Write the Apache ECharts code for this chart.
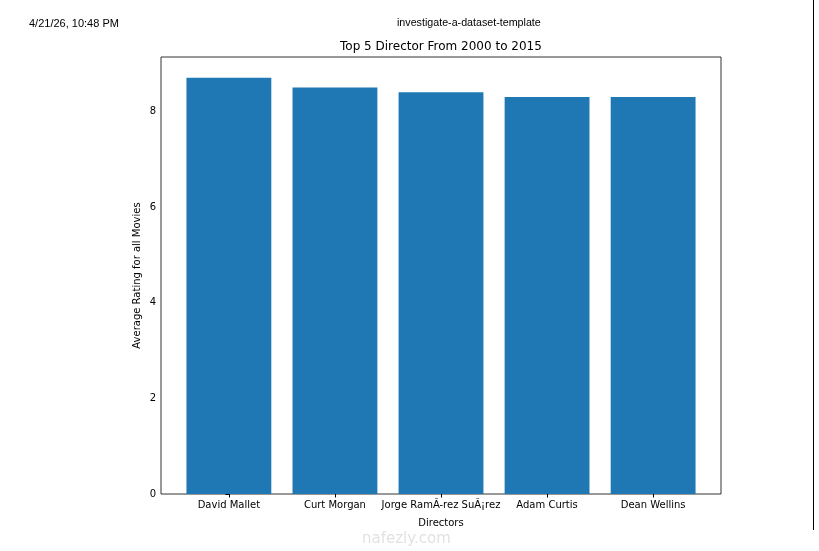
<!DOCTYPE html>
<html>
<head>
<meta charset="utf-8">
<script src="https://cdn.jsdelivr.net/npm/echarts@6/dist/echarts.min.js"></script>
<style>
html,body{margin:0;padding:0;background:#fff;}
#chart{width:819px;height:551px;}
</style>
</head>
<body>
<div id="chart"></div>
<script>
const directors = ['David Mallet', 'Curt Morgan', 'Jorge RamÃ-rez SuÃ¡rez', 'Adam Curtis', 'Dean Wellins'];
const avgRatings = [8.7, 8.5, 8.4, 8.3, 8.3];
const yTicks = [0, 2, 4, 6, 8];

const chartTitle = 'Top 5 Director From 2000 to 2015';
const xName = 'Directors';
const yName = 'Average Rating for all Movies';
const headerLeft = '4/21/26, 10:48 PM';
const headerCenter = 'investigate-a-dataset-template';

// matplotlib-style limits: 5% margins
const yMax = Math.max(...avgRatings) * 1.05;
const xLo = -0.4 - 0.05 * 4.8, xHi = 4.4 + 0.05 * 4.8;

const frame = {left: 161, right: 98, top: 57, bottom: 57};
const plotW = 819 - frame.left - frame.right;
const unit = plotW / (xHi - xLo);
const barGridLeft = frame.left + (-0.5 - xLo) * unit;
const barGridRight = frame.right + (xHi - 4.5) * unit;

const font = 'DejaVu Sans';
const chart = echarts.init(document.getElementById('chart'));
chart.setOption({
  animation: false,
  backgroundColor: '#fff',
  title: {
    text: chartTitle,
    left: 335,
    top: 36,
    textStyle: {fontFamily: font, fontSize: 12, fontWeight: 'normal', color: '#000'}
  },
  grid: [
    {left: frame.left, right: frame.right, top: frame.top, bottom: frame.bottom, show: true,
     borderColor: '#333', borderWidth: 1, backgroundColor: 'transparent'},
    {left: barGridLeft, right: barGridRight, top: frame.top, bottom: frame.bottom}
  ],
  xAxis: [
    {gridIndex: 0, type: 'value', min: xLo, max: xHi, show: false},
    {gridIndex: 1, type: 'category', data: directors,
     axisLine: {show: false},
     axisTick: {show: true, alignWithLabel: true, length: 3.5, lineStyle: {color: '#000'}},
     axisLabel: {interval: 0, fontFamily: font, fontSize: 10, color: '#000', margin: 6},
     name: xName, nameLocation: 'middle', nameGap: 24, nameMoveOverlap: false,
     nameTextStyle: {fontFamily: font, fontSize: 10, color: '#000'}}
  ],
  yAxis: [
    {gridIndex: 0, type: 'value', min: 0, max: yMax, interval: 2,
     axisLine: {show: false},
     axisTick: {show: true, length: 3.5, lineStyle: {color: '#000'}},
     splitLine: {show: false},
     axisLabel: {fontFamily: font, fontSize: 10, color: '#000', margin: 5,
       showMaxLabel: false,
       formatter: v => yTicks.includes(v) ? String(v) : ''},
     name: yName, nameLocation: 'middle', nameGap: 19, nameMoveOverlap: false,
     nameTextStyle: {fontFamily: font, fontSize: 10, color: '#000'}},
    {gridIndex: 1, type: 'value', min: 0, max: yMax, show: false}
  ],
  series: [{
    type: 'bar',
    xAxisIndex: 1, yAxisIndex: 1,
    data: avgRatings,
    barWidth: '80%',
    itemStyle: {color: '#1f77b4'}
  }],
  graphic: [
    {type: 'text', left: 29, top: 18, style: {text: headerLeft, font: '11px "Liberation Sans"', fill: '#000'}},
    {type: 'text', left: 397, top: 18, style: {text: headerCenter, font: '10.7px "Liberation Sans"', fill: '#000'}},
    {type: 'line', shape: {x1: 813.5, y1: 0, x2: 813.5, y2: 530}, style: {stroke: '#000', lineWidth: 1}},
    {type: 'text', left: 362, top: 532, style: {text: 'nafezly.com', font: '15px "DejaVu Sans"', fill: '#e2e2e2'}}
  ]
});
</script>
</body>
</html>
